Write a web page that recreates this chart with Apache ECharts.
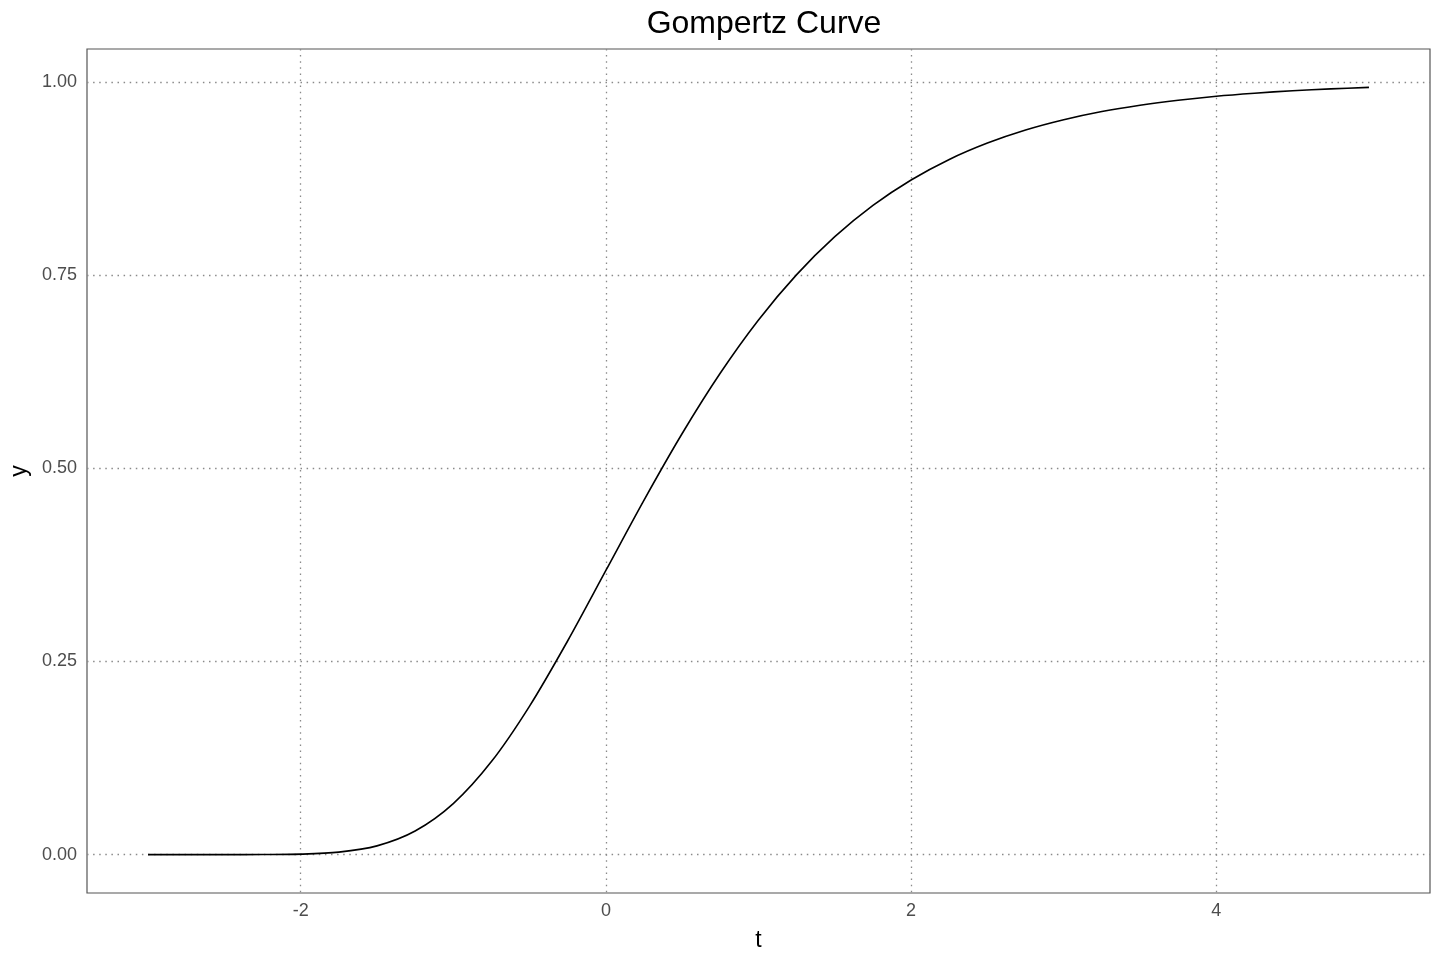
<!DOCTYPE html>
<html>
<head>
<meta charset="utf-8">
<script src="https://cdn.jsdelivr.net/npm/echarts@6/dist/echarts.min.js"></script>
<style>
html,body{margin:0;padding:0;background:#fff;}
#chart{width:1440px;height:960px;}
</style>
</head>
<body>
<div id="chart"></div>
<script>
// values
const tValues = [-3, -2.75, -2.5, -2.25, -2, -1.75, -1.5, -1.25, -1, -0.75, -0.5, -0.25,
  0, 0.25, 0.5, 0.75, 1, 1.25, 1.5, 1.75, 2, 2.25, 2.5, 2.75, 3, 3.25, 3.5, 3.75, 4, 4.25, 4.5, 4.75, 5];
const yValues = [0.0000, 0.0000, 0.0000, 0.0001, 0.0006, 0.0032, 0.0113, 0.0305, 0.0660, 0.1204, 0.1923, 0.2769,
  0.3679, 0.4590, 0.5452, 0.6235, 0.6922, 0.7509, 0.8000, 0.8405, 0.8734, 0.9000, 0.9212, 0.9381,
  0.9514, 0.9620, 0.9702, 0.9767, 0.9819, 0.9858, 0.9890, 0.9914, 0.9933];
const xTicks = [-2, 0, 2, 4];
const yTicks = [0, 0.25, 0.5, 0.75, 1.0];

const data = tValues.map((t, i) => [t, yValues[i]]);
const chart = echarts.init(document.getElementById('chart'));
const font = 'Liberation Sans, Arial, Helvetica, sans-serif';
const gridLine = {show: true, lineStyle: {color: '#8a8a8a', width: 1.3, type: [1.5, 4.6]}};

chart.setOption({
  animation: false,
  backgroundColor: '#ffffff',
  title: {
    text: 'Gompertz Curve',
    left: 759, top: 3, textAlign: 'center',
    textStyle: {fontFamily: font, fontSize: 32, fontWeight: 'normal', color: '#000'}
  },
  grid: {left: 87, right: 10, top: 49, bottom: 67, outerBoundsMode: 'none', containLabel: false,
    show: true, borderColor: '#555555', borderWidth: 1.2, backgroundColor: 'transparent'},
  xAxis: {
    type: 'value', min: -3.4, max: 5.4,
    name: 't', nameLocation: 'middle', nameGap: 36,
    nameTextStyle: {fontFamily: font, fontSize: 23, color: '#000'},
    axisLine: {show: false},
    axisTick: {show: false, customValues: xTicks},
    axisLabel: {customValues: xTicks, fontFamily: font, fontSize: 18, color: '#4d4d4d', margin: 9},
    splitLine: gridLine
  },
  yAxis: {
    type: 'value', min: -0.0497, max: 1.043,
    name: 'y', nameLocation: 'middle', nameGap: 55,
    nameTextStyle: {fontFamily: font, fontSize: 23, color: '#000'},
    axisLine: {show: false},
    axisTick: {show: false, customValues: yTicks},
    axisLabel: {customValues: yTicks, fontFamily: font, fontSize: 18, color: '#4d4d4d', margin: 10,
      formatter: v => v.toFixed(2)},
    splitLine: gridLine
  },
  series: [{
    type: 'line', data: data, smooth: 0.3, showSymbol: false,
    lineStyle: {color: '#000', width: 1.6}
  }]
});
</script>
</body>
</html>
